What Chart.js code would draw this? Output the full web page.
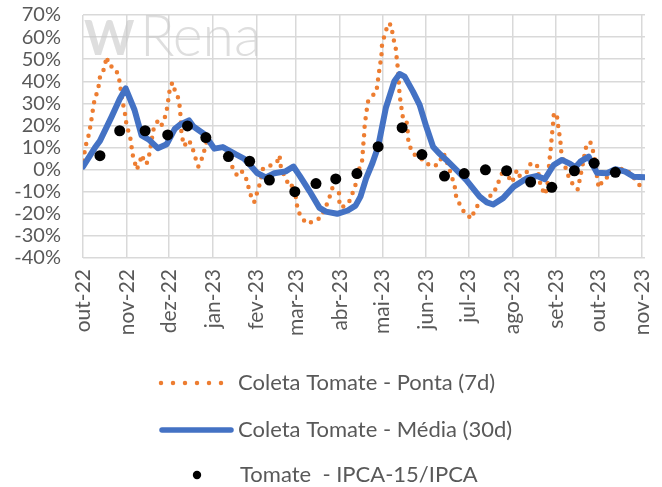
<!DOCTYPE html>
<html>
<head>
<meta charset="utf-8">
<script src="https://cdn.jsdelivr.net/npm/chart.js@4.4.1/dist/chart.umd.min.js"></script>
<style>
html, body { margin: 0; padding: 0; background: #fff; }
#wrap { width: 662px; height: 487px; position: relative; }
</style>
</head>
<body>
<div id="wrap"><canvas id="tomateChart"></canvas></div>
<script>
// days counted from 1 Oct 2022
const monthTicks = [0, 31, 61, 92, 123, 151, 182, 212, 243, 273, 304, 335, 365, 396];
const monthLabels = ['out-22', 'nov-22', 'dez-22', 'jan-23', 'fev-23', 'mar-23', 'abr-23',
    'mai-23', 'jun-23', 'jul-23', 'ago-23', 'set-23', 'out-23', 'nov-23'];

const yTicks = [-40, -30, -20, -10, 0, 10, 20, 30, 40, 50, 60, 70];

const seriesNames = ['Coleta Tomate - Ponta (7d)', 'Coleta Tomate - Média (30d)', 'Tomate  - IPCA-15/IPCA'];

// Coleta Tomate - Ponta (7d), %
const pontaDays = [0.5, 1.4, 3.8, 5.4, 6.6, 8, 10.8, 12, 15.1, 16.7, 18.4, 21, 23.4, 25.7, 28, 29.7, 30.9,
    33.3, 34.4, 35, 36, 38, 40.4, 41.5, 43.9, 45, 47, 49.8, 53.3, 55.7, 58.1, 59.9, 60.9, 63.2, 65.2,
    67.5, 68.7, 69.8, 71.7, 74.6, 76.9, 79.3, 81.7, 84, 86.4, 88, 92, 97, 102, 105.6, 109.4, 112.7,
    116.2, 118, 121.2, 123.5, 125.7, 127.5, 131.5, 137.5, 139.2, 140.2, 144.6, 147, 149.2, 151.7, 154,
    158.7, 163.5, 168.5, 173.8, 176.6, 181.3, 181.7, 184.8, 189.1, 193, 194.2, 195.4, 197.8, 198.3,
    199, 199.5, 200.6, 201.8, 205.4, 207.7, 208.9, 210, 211.3, 211.8, 214.1, 216, 218.3, 219.5, 221.4,
    222.3, 223.1, 224.2, 225.4, 226.6, 229, 230.1, 230.5, 233.7, 238, 242, 245.5, 251.4, 255.4, 258.5,
    260.8, 263.2, 264.4, 266.7, 270.3, 275.2, 277.3, 281.7, 286.8, 290.3, 293.5, 296.2, 298.6, 300.5,
    303.8, 307.4, 309, 311, 313.9, 316.8, 319.3, 321.5, 324.2, 327.4, 329, 330.5, 331.4, 332.1, 332.8,
    333.5, 335.7, 336.8, 338, 338.7, 342.8, 346.3, 350.3, 352, 356.7, 359.3, 362, 364, 365.2, 368.7,
    373, 378, 382, 387.7, 391.3, 395.2];
const pontaValues = [4, 9.7, 15, 20.2, 25.5, 31, 36.8, 41.8, 45.9, 51.1, 47, 46.5, 45.4, 40.6, 30.8, 25.5, 19.8,
    15.2, 10.4, 7, 5, 0, 3.6, 6.7, 2.9, 2.5, 7, 18, 22.5, 20.2, 24, 28.8, 34.6, 39.4, 35.6,
    32.3, 27.8, 15.7, 10.7, 13.4, 11.2, 5.9, 1.4, 4.7, 9.7, 14, 10, 9.5, 10.8, 1.4, -3, -0.9,
    -4.9, -10.4, -14.8, -10, -5.4, 0.6, 1.4, 3.6, 6.5, 0.6, -5.4, -8, -6.2, -16.7, -21.3,
    -24.5, -23.3, -21.7, -14, -8.4, -10.7, -16.7, -16.7, -13.9, -6.9, -3.2, -0.1, 4.4, 9.7,
    15, 20.2, 25.5, 30.8, 33.8, 34.8, 40.6, 45.9, 51.1, 57.2, 61.7, 66.2, 65.5, 60.2, 55.4,
    49.6, 45.1, 33.8, 28.5, 23.3, 22.5, 16.5, 11.9, 7.4, 5, 4.4, 1.7, 2.1, 7.4, 2.1,
    -2.4, -7.4, -12.9, -15.5, -19.7, -22.2, -18.2, -14.3, -12.2, -11.4, -6.8, -2.4, 0.6, -2.4,
    -5.9, -0.1, -2.4, -5.4, -1.6, 2.4, 3.1, 2, -7.7, -11.4, -5.9, 5.2, 10.4, 15.7, 20.2,
    25.8, 24, 18.3, 13.4, 8.1, -1.6, -6, -9, -3.9, 11.7, 12.4, 6.7, -3, -8.2, -4.2,
    -3, -1.5, 0.6, -1.6, -4.7, -8];

// Coleta Tomate - Média (30d), %
const mediaDays = [0, 8.5, 12, 20.3, 26, 30.2, 36.5, 41.5, 47, 53, 59.3, 65, 69, 75, 78.2, 86, 93, 99, 108,
    114, 118.5, 123.3, 129.5, 135.5, 143.5, 149, 153.5, 160.5, 167.5, 172, 180, 187.5, 193, 196.5,
    200.5, 205, 209, 214.5, 220.5, 224.2, 227.8, 233.7, 238.4, 243.1, 247.9, 252, 257.3, 264.4,
    271.5, 280.9, 286, 290.5, 297.5, 305, 314.4, 321.5, 327, 333.3, 339.2, 345.1, 348.7, 352.2,
    358.1, 361.6, 364, 371.1, 377, 384, 390, 398];
const mediaValues = [1.4, 10, 13, 24, 32, 36.8, 27, 15.5, 13.4, 9.7, 11.5, 18.5, 20.5, 22.3, 19.5, 16, 9.5, 10.2, 7,
    5, 2, -1.5, -3.5, -1.6, -0.8, 1.4, -2.8, -9.8, -17.3, -19, -20, -18.5, -16.3, -12.2,
    -4, 3, 10.4, 28, 40, 43.3, 42.1, 35.3, 29.3, 19.5, 10.4, 7.5, 4.4, -0.1,
    -4.7, -12.2, -14.8, -15.8, -12.9, -7.7, -3.9, -2.9, -4.3, 2.1, 4.4, 2.6, 1.1, 3.6,
    5.9, 1.4, -1.4, -1.6, 0.2, -0.9, -3.2, -3.4];

// Tomate - IPCA-15/IPCA, %
const ipcaDays = [12, 26, 44, 60, 74, 87, 103, 118, 132, 150, 165, 179, 194, 209, 226, 240, 256, 270,
    285, 300, 317, 332, 348, 362, 377];
const ipcaValues = [6.3, 17.6, 17.6, 15.7, 19.8, 14.5, 5.9, 3.8, -4.7, -10.0, -6.3, -4.2, -1.8, 10.4, 19.0,
    6.8, -2.9, -1.8, -0.1, -0.5, -5.6, -8.0, -0.5, 2.9, -1.2];

const toPoints = (xs, ys) => xs.map((x, i) => ({ x: x, y: ys[i] }));

const orange = '#ED7D31';
const blue = '#4472C4';
const textGrey = '#595959';
const gridGrey = '#D9D9D9';
const fontFamily = 'Lato, "Open Sans", sans-serif';

const watermark = {
    id: 'watermark',
    beforeDatasetsDraw(chart) {
        const c = chart.ctx;
        c.save();
        c.fillStyle = 'rgba(200,200,200,0.6)';
        c.textBaseline = 'alphabetic';
        c.font = 'bold 48px ' + fontFamily;
        c.fillText('W', 84, 55);
        c.font = '300 57px ' + fontFamily;
        c.fillText('Rena', 140, 56);
        c.restore();
    }
};

const sideLegend = {
    id: 'sideLegend',
    afterDraw(chart) {
        const c = chart.ctx;
        const rows = [383, 430, 475];
        c.save();
        c.font = '22px ' + fontFamily;
        c.textBaseline = 'middle';
        c.textAlign = 'left';

        c.strokeStyle = orange;
        c.lineWidth = 4.5;
        c.lineCap = 'round';
        c.setLineDash([0, 12]);
        c.beginPath();
        c.moveTo(161, rows[0]);
        c.lineTo(228, rows[0]);
        c.stroke();

        c.setLineDash([]);
        c.strokeStyle = blue;
        c.lineWidth = 5.5;
        c.beginPath();
        c.moveTo(162, rows[1]);
        c.lineTo(231, rows[1]);
        c.stroke();

        c.fillStyle = '#000';
        c.beginPath();
        c.arc(197, rows[2], 4.2, 0, Math.PI * 2);
        c.fill();

        c.fillStyle = textGrey;
        seriesNames.forEach((name, i) => {
            c.fillText(name, i === 2 ? 240 : 238, rows[i]);
        });
        c.restore();
    }
};

const ctx = document.getElementById('tomateChart').getContext('2d');
const tomateChart = new Chart(ctx, {
    type: 'line',
    data: {
        datasets: [{
            label: seriesNames[2],
            data: toPoints(ipcaDays, ipcaValues),
            showLine: false,
            pointRadius: 5.5,
            pointBackgroundColor: '#000',
            pointBorderColor: '#000',
            pointBorderWidth: 0,
            order: 0
        }, {
            label: seriesNames[1],
            data: toPoints(mediaDays, mediaValues),
            borderColor: blue,
            borderWidth: 6,
            borderJoinStyle: 'round',
            borderCapStyle: 'round',
            pointRadius: 0,
            tension: 0,
            order: 1
        }, {
            label: seriesNames[0],
            data: toPoints(pontaDays, pontaValues),
            borderColor: orange,
            borderWidth: 4.5,
            borderDash: [0, 8.5],
            borderCapStyle: 'round',
            pointRadius: 0,
            tension: 0,
            order: 2
        }]
    },
    options: {
        responsive: true,
        maintainAspectRatio: false,
        animation: false,
        layout: {
            autoPadding: false,
            padding: { top: 15, right: 17, bottom: 137, left: 0 }
        },
        plugins: {
            legend: { display: false },
            tooltip: { enabled: false }
        },
        scales: {
            x: {
                type: 'linear',
                min: 0,
                max: 398,
                afterBuildTicks: (scale) => {
                    scale.ticks = monthTicks.map(v => ({ value: v }));
                },
                afterFit: (scale) => {
                    scale.height = 92;
                    scale.paddingLeft = 0;
                    scale.paddingRight = 0;
                },
                ticks: {
                    autoSkip: false,
                    maxRotation: 90,
                    minRotation: 90,
                    padding: 11,
                    color: textGrey,
                    font: { family: fontFamily, size: 21 },
                    callback: (value) => monthLabels[monthTicks.indexOf(value)]
                },
                grid: { color: gridGrey, lineWidth: 1.5, drawTicks: false },
                border: { display: false }
            },
            y: {
                min: -40,
                max: 70,
                afterBuildTicks: (scale) => {
                    scale.ticks = yTicks.map(v => ({ value: v }));
                },
                afterFit: (scale) => {
                    scale.width = 83;
                    scale.paddingTop = 0;
                    scale.paddingBottom = 0;
                },
                ticks: {
                    autoSkip: false,
                    padding: 22,
                    color: textGrey,
                    font: { family: fontFamily, size: 20 },
                    callback: (value) => value + '%'
                },
                grid: { color: gridGrey, lineWidth: 1.5, drawTicks: false },
                border: { display: false }
            }
        }
    },
    plugins: [watermark, sideLegend]
});
</script>
</body>
</html>
